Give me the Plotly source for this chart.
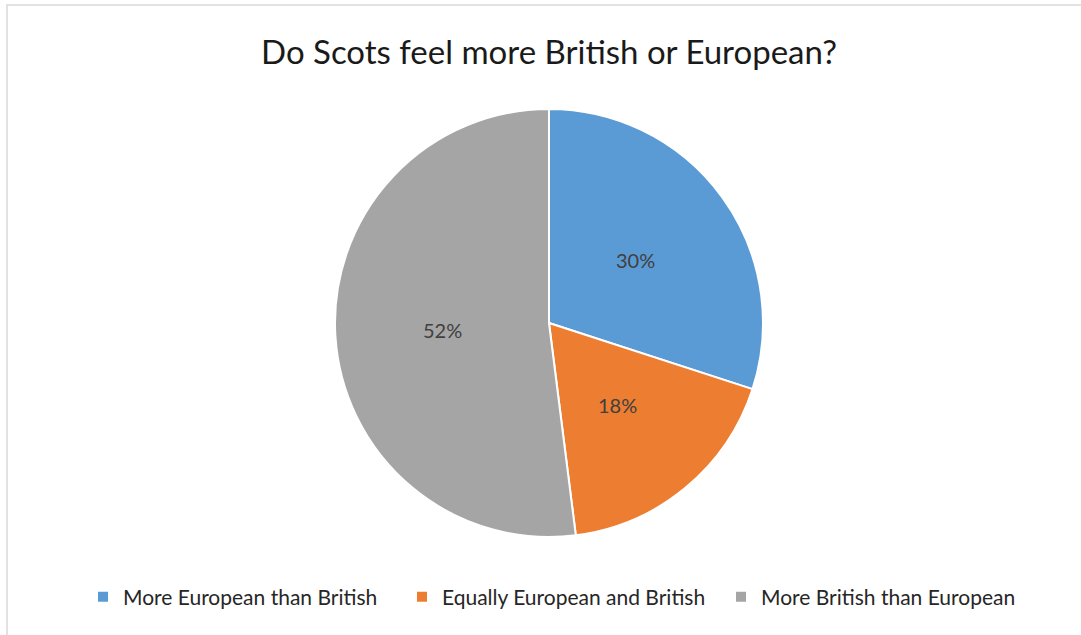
import math
import plotly.graph_objects as go

categories = ["More European than British", "Equally European and British", "More British than European"]
values = [30, 18, 52]
colors = ["#5B9BD5", "#ED7D31", "#A5A5A5"]
title_text = "Do Scots feel more British or European?"

W, H = 1081, 635
cx, cy, R = 549, 323, 214

fig = go.Figure(go.Pie(
    labels=categories,
    values=values,
    sort=False,
    direction="clockwise",
    rotation=0,
    marker=dict(colors=colors, line=dict(color="white", width=2)),
    textinfo="none",
    domain=dict(x=[(cx - R) / W, (cx + R) / W], y=[1 - (cy + R) / H, 1 - (cy - R) / H]),
    hoverinfo="label+percent",
))

# data labels placed at half radius along each slice's mid-angle
total = sum(values)
annotations = []
cum = 0
for v in values:
    mid = (cum + v / 2) / total * 2 * math.pi
    cum += v
    px = cx + 0.5 * R * math.sin(mid)
    py = cy - 0.5 * R * math.cos(mid)
    annotations.append(dict(
        x=px / W, y=1 - py / H, xref="paper", yref="paper",
        text=f"{round(v / total * 100)}%", showarrow=False,
        xanchor="center", yanchor="middle",
        font=dict(family="Lato", size=20, color="#404040"),
    ))

fig.update_layout(
    width=W, height=H,
    margin=dict(l=0, r=0, t=0, b=0),
    paper_bgcolor="white",
    plot_bgcolor="white",
    title=dict(text=title_text, x=549 / W, xanchor="center", y=1 - 52 / H, yanchor="middle",
               font=dict(family="Lato", size=33, color="#1a1a1a")),
    showlegend=True,
    legend=dict(orientation="h", x=83 / W, xanchor="left", y=1 - 597 / H, yanchor="middle",
                font=dict(family="Lato", size=21, color="#262626"),
                itemwidth=30, entrywidth=274, traceorder="normal", itemsizing="constant"),
    annotations=annotations,
    shapes=[dict(type="rect", xref="paper", yref="paper",
                 x0=7 / W, x1=1.02, y0=-0.02, y1=1 - 5 / H,
                 line=dict(color="#D9D9D9", width=1.5), fillcolor="rgba(0,0,0,0)", layer="below")],
)

fig.write_html("out.html")
